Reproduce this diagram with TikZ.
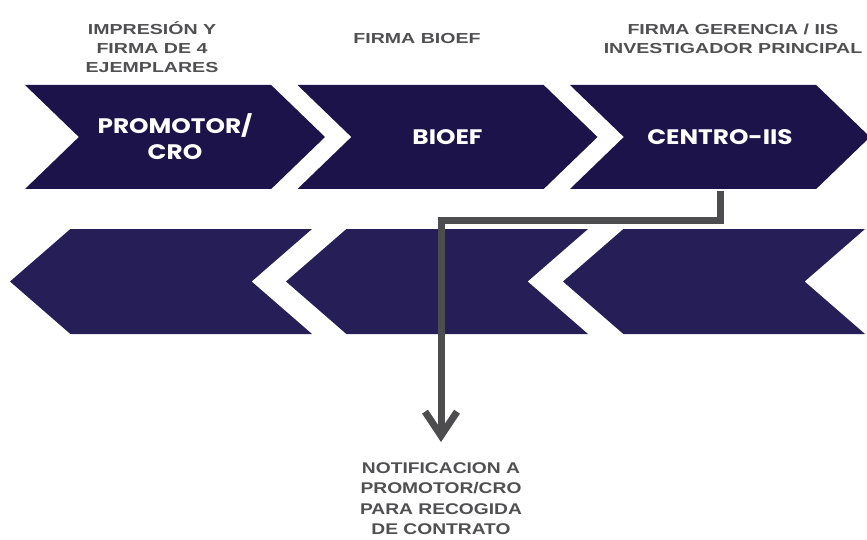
\documentclass[tikz,border=0pt]{standalone}
\usepackage{fontspec}
\setmainfont{Liberation Sans}
\newfontfamily\labelfont[FakeStretch=1.35]{Liberation Sans}
\newfontfamily\notefont[FakeStretch=1.24]{Liberation Sans}
\newfontfamily\stepfont[FakeStretch=1.18]{Poppins}
\usetikzlibrary{arrows.meta, positioning, shapes.symbols}

\begin{document}
\begin{tikzpicture}[x=1pt, y=-1pt,
  chevron/.style={signal, draw=none, inner sep=0pt, text=white, align=center,
    font=\stepfont\bfseries\fontsize{21}{26}\selectfont},
  forward/.style={chevron, fill=topnavy, signal to=east, signal from=west,
    signal pointer angle=88, minimum height=104pt, minimum width=300pt},
  backward/.style={chevron, fill=lownavy, signal to=west, signal from=east,
    signal pointer angle=82, minimum height=105pt, minimum width=302pt},
  steplabel/.style={text=labelgray, align=center, inner sep=0pt,
    font=\labelfont\bfseries\fontsize{14.5}{19}\selectfont},
  notelabel/.style={text=labelgray, align=center, inner sep=0pt,
    font=\notefont\bfseries\fontsize{15.5}{20.5}\selectfont},
  connector/.style={draw=linegray, line width=7pt, line join=miter,
    -{Straight Barb[sharp, length=24pt, width=32pt]}}
]
  % Define colors
  \definecolor{topnavy}{RGB}{27,19,73}
  \definecolor{lownavy}{RGB}{37,30,87}
  \definecolor{labelgray}{RGB}{80,80,82}
  \definecolor{linegray}{RGB}{77,77,79}

  \useasboundingbox (0,0) rectangle (867,540);

  % Top row (pointing right)
  \node[forward] (promotor) at (175,137) {PROMOTOR/\\CRO};
  \node[forward] (bioef) at (447.5,137) {BIOEF};
  \node[forward] (centro) at (720,137) {CENTRO-IIS};

  % Bottom row (pointing left, empty)
  \foreach \name/\x in {backa/161, backb/437, backc/714} {
    \node[backward] (\name) at (\x,281.5) {};
  }

  % Labels above the steps
  \node[steplabel] (printlabel) at (152,47) {IMPRESIÓN Y\\FIRMA DE 4\\EJEMPLARES};
  \node[steplabel] (bioeflabel) at (417,39) {FIRMA BIOEF};
  \node[steplabel] (centrolabel) at (733,38.5) {FIRMA GERENCIA / IIS\\INVESTIGADOR PRINCIPAL};

  % Notification at the bottom
  \node[notelabel, anchor=north] (notice) at (441,462)
    {NOTIFICACION A\\PROMOTOR/CRO\\PARA RECOGIDA\\DE CONTRATO};

  % Connector from CENTRO-IIS down to the notification
  \draw[connector, shorten <=2pt, shorten >=20pt] (centro.south) -- ++(0,31) -| (notice.north);

\end{tikzpicture}
\end{document}
